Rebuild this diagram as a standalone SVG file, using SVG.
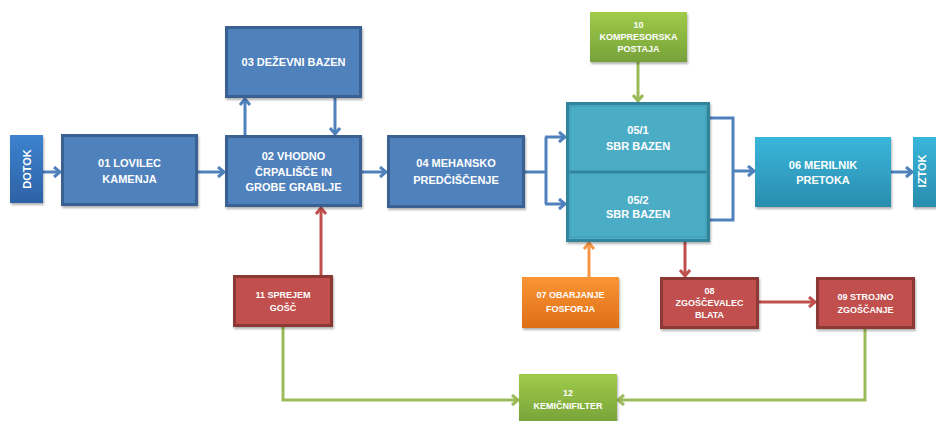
<svg xmlns="http://www.w3.org/2000/svg" width="936" height="421" viewBox="0 0 936 421">
<defs>
<style>
.t{font-family:"Liberation Sans",Arial,sans-serif;font-weight:bold;fill:#fff;text-anchor:middle}
.m{font-size:11px}
.s{font-size:9px}
.blue{fill:#4F81BD;stroke:#3A6192;stroke-width:3}
.sbr{fill:#4BACC6;stroke:#31849B;stroke-width:3}
.red{fill:#C0504D;stroke:#8C3836;stroke-width:3}
.cb{fill:none;stroke:#4F81BD;stroke-width:3}
.cr{fill:none;stroke:#C0504D;stroke-width:3}
.cg{fill:none;stroke:#9BBB59;stroke-width:3}
.co{fill:none;stroke:#F79646;stroke-width:3}
</style>
<linearGradient id="gBlue" x1="0" y1="0" x2="0" y2="1"><stop offset="0" stop-color="#3D82CF"/><stop offset="1" stop-color="#2D62A6"/></linearGradient>
<linearGradient id="gCyan" x1="0" y1="0" x2="0" y2="1"><stop offset="0" stop-color="#38B6DB"/><stop offset="1" stop-color="#2A8DAE"/></linearGradient>
<linearGradient id="gGreen" x1="0" y1="0" x2="0" y2="1"><stop offset="0" stop-color="#A0CB4A"/><stop offset="1" stop-color="#76A23A"/></linearGradient>
<linearGradient id="gOrange" x1="0" y1="0" x2="0" y2="1"><stop offset="0" stop-color="#FA9535"/><stop offset="1" stop-color="#DE6E17"/></linearGradient>
<filter id="sh" x="-10%" y="-10%" width="130%" height="130%"><feDropShadow dx="1" dy="2" stdDeviation="1.2" flood-color="#000" flood-opacity="0.3"/></filter>
<marker id="ab" markerUnits="userSpaceOnUse" markerWidth="12" markerHeight="14" refX="8" refY="6" orient="auto"><path d="M2,1 L8,6 L2,11" fill="none" stroke="#4F81BD" stroke-width="3"/></marker>
<marker id="ar" markerUnits="userSpaceOnUse" markerWidth="12" markerHeight="14" refX="8" refY="6" orient="auto"><path d="M2,1 L8,6 L2,11" fill="none" stroke="#C0504D" stroke-width="3"/></marker>
<marker id="ag" markerUnits="userSpaceOnUse" markerWidth="12" markerHeight="14" refX="8" refY="6" orient="auto"><path d="M2,1 L8,6 L2,11" fill="none" stroke="#9BBB59" stroke-width="3"/></marker>
<marker id="ao" markerUnits="userSpaceOnUse" markerWidth="12" markerHeight="14" refX="8" refY="6" orient="auto"><path d="M2,1 L8,6 L2,11" fill="none" stroke="#F79646" stroke-width="3"/></marker>
</defs>

<g id="connectors">
<path class="cb" d="M43,172 H60" marker-end="url(#ab)"/>
<path class="cb" d="M198,172 H224" marker-end="url(#ab)"/>
<path class="cb" d="M245,135 V99" marker-end="url(#ab)"/>
<path class="cb" d="M335,98 V134" marker-end="url(#ab)"/>
<path class="cb" d="M362,172 H386" marker-end="url(#ab)"/>
<path class="cb" d="M525,172 H546"/>
<path class="cb" d="M546,137 V204"/>
<path class="cb" d="M545,137 H565" marker-end="url(#ab)"/>
<path class="cb" d="M545,204 H565" marker-end="url(#ab)"/>
<path class="cb" d="M710,118 H733 V220 H710"/>
<path class="cb" d="M733,171 H754" marker-end="url(#ab)"/>
<path class="cb" d="M891,172 H912" marker-end="url(#ab)"/>
<path class="cg" d="M638,62 V101" marker-end="url(#ag)"/>
<path class="co" d="M589,277 V243" marker-end="url(#ao)"/>
<path class="cr" d="M685,242 V276" marker-end="url(#ar)"/>
<path class="cr" d="M759,302 H815" marker-end="url(#ar)"/>
<path class="cr" d="M321,275 V208" marker-end="url(#ar)"/>
<path class="cg" d="M283,327 V400 H518" marker-end="url(#ag)"/>
<path class="cg" d="M865,329 V400 H618" marker-end="url(#ag)"/>
</g>

<g id="dotok">
<rect x="10" y="135" width="33" height="68" fill="url(#gBlue)" filter="url(#sh)"/>
<text class="t m" transform="translate(31,169) rotate(-90)">DOTOK</text>
</g>

<g id="n01">
<rect class="blue" x="62.5" y="135.5" width="134" height="69" filter="url(#sh)"/>
<text class="t m" x="129.5" y="167">01 LOVILEC</text>
<text class="t m" x="129.5" y="183">KAMENJA</text>
</g>

<g id="n02">
<rect class="blue" x="226.5" y="136.5" width="134" height="69" filter="url(#sh)"/>
<text class="t m" x="293.5" y="160">02 VHODNO</text>
<text class="t m" x="293.5" y="176">ČRPALIŠČE IN</text>
<text class="t m" x="293.5" y="191">GROBE GRABLJE</text>
</g>

<g id="n03">
<rect class="blue" x="226.5" y="27.5" width="134" height="69" filter="url(#sh)"/>
<text class="t m" x="293.5" y="66">03 DEŽEVNI BAZEN</text>
</g>

<g id="n04">
<rect class="blue" x="388.5" y="136.5" width="135" height="70" filter="url(#sh)"/>
<text class="t m" x="456" y="167">04 MEHANSKO</text>
<text class="t m" x="456" y="184">PREDČIŠČENJE</text>
</g>

<g id="n05">
<rect class="sbr" x="567.5" y="103.5" width="141" height="137" filter="url(#sh)"/>
<line x1="567" y1="172" x2="709" y2="172" stroke="#31849B" stroke-width="3"/>
<rect x="570" y="106" width="136" height="131" fill="none" stroke="#3E9BB4" stroke-width="1"/>
</g>
<g id="n05_1">
<text class="t m" x="638" y="134">05/1</text>
<text class="t m" x="638" y="150">SBR BAZEN</text>
</g>
<g id="n05_2">
<text class="t m" x="638" y="204">05/2</text>
<text class="t m" x="638" y="218">SBR BAZEN</text>
</g>

<g id="n06">
<rect x="755" y="137" width="136" height="70" fill="url(#gCyan)" filter="url(#sh)"/>
<text class="t m" x="823" y="169">06 MERILNIK</text>
<text class="t m" x="823" y="184">PRETOKA</text>
</g>

<g id="iztok">
<rect x="913" y="137" width="30" height="70" fill="url(#gCyan)" filter="url(#sh)"/>
<text class="t m" transform="translate(926,171) rotate(-90)">IZTOK</text>
</g>

<g id="n10">
<rect x="590" y="12" width="97" height="50" fill="url(#gGreen)" filter="url(#sh)"/>
<text class="t s" x="638.5" y="28">10</text>
<text class="t s" x="638.5" y="40">KOMPRESORSKA</text>
<text class="t s" x="638.5" y="52">POSTAJA</text>
</g>

<g id="n11">
<rect class="red" x="234.5" y="276.5" width="97" height="49" filter="url(#sh)"/>
<text class="t s" x="283" y="298">11 SPREJEM</text>
<text class="t s" x="283" y="311">GOŠČ</text>
</g>

<g id="n07">
<rect x="522" y="277" width="97" height="51" fill="url(#gOrange)" filter="url(#sh)"/>
<text class="t s" x="570.5" y="298">07 OBARJANJE</text>
<text class="t s" x="570.5" y="312">FOSFORJA</text>
</g>

<g id="n08">
<rect class="red" x="661.5" y="278.5" width="96" height="49" filter="url(#sh)"/>
<text class="t s" x="709.5" y="294">08</text>
<text class="t s" x="709.5" y="306">ZGOŠČEVALEC</text>
<text class="t s" x="709.5" y="318">BLATA</text>
</g>

<g id="n09">
<rect class="red" x="817.5" y="278.5" width="96" height="49" filter="url(#sh)"/>
<text class="t s" x="865.5" y="300">09 STROJNO</text>
<text class="t s" x="865.5" y="313">ZGOŠČANJE</text>
</g>

<g id="n12">
<rect x="519" y="374" width="98" height="50" fill="url(#gGreen)" filter="url(#sh)"/>
<text class="t s" x="568" y="396">12</text>
<text class="t s" x="568" y="409">KEMIČNIFILTER</text>
</g>
</svg>
